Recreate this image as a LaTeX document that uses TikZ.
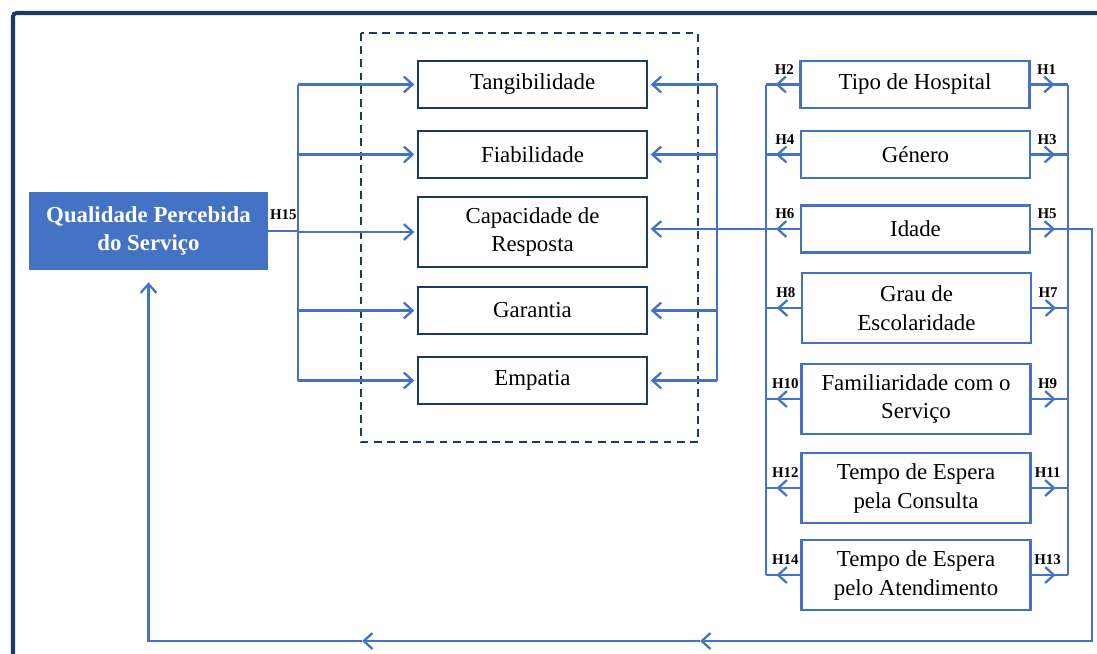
\documentclass[tikz,border=0pt]{standalone}
\usepackage{fontspec}
\setmainfont{Liberation Serif}
\usetikzlibrary{arrows.meta}
\definecolor{navy}{HTML}{1F3864}
\definecolor{ablue}{HTML}{4472C4}

\begin{document}
\begin{tikzpicture}[x={(0.02cm,0)}, y={(0,-0.02cm)},
        dim/.style={draw=navy, line width=1.2pt, minimum width=4.58cm, minimum height=0.94cm, align=center, font=\fontsize{13}{16.5}\selectfont},
        var/.style={draw=ablue, line width=1.3pt, minimum width=4.58cm, minimum height=0.94cm, align=center, font=\fontsize{13}{16.5}\selectfont},
        tall/.style={minimum height=1.4cm},
        qpsbox/.style={fill=ablue, text=white, minimum width=4.78cm, minimum height=1.56cm, align=center, font=\bfseries\fontsize{13}{16}\selectfont},
        link/.style={ablue, line width=1.3pt},
        tip/.style={-{Straight Barb[length=5pt,width=9pt]}},
        hlab/.style={font=\bfseries\fontsize{8.5}{10}\selectfont, inner sep=0pt}]
            \useasboundingbox (0,0) rectangle (1097,653);

            % Frame
            \draw[navy, line width=2.3pt, rounded corners=2pt] (13,660) -- (13,13) -- (1104,13);
            \draw[navy, line width=1.2pt, dash pattern=on 4.5pt off 3pt] (361,33) rectangle (698,442);

            % Main construct
            \node[qpsbox] (qps) at (148.5,231) {Qualidade Percebida\\do Serviço};

            % Dimensions
            \node[dim] (tang) at (532.5,84.5) {Tangibilidade};
            \node[dim] (fiab) at (532.5,154.5) {Fiabilidade};
            \node[dim, tall] (cap) at (532.5,232) {Capacidade de\\Resposta};
            \node[dim] (gar) at (532.5,310.5) {Garantia};
            \node[dim] (emp) at (532.5,380.5) {Empatia};

            % Variables
            \node[var] (hosp) at (915,84.5) {Tipo de Hospital};
            \node[var] (gen) at (915.5,154.5) {Género};
            \node[var] (idade) at (915.5,229) {Idade};
            \node[var, tall] (grau) at (916.5,308) {Grau de\\Escolaridade};
            \node[var, tall] (fam) at (916,399) {Familiaridade com o\\Serviço};
            \node[var, tall] (tce) at (916,488) {Tempo de Espera\\pela Consulta};
            \node[var, tall] (tat) at (916,575) {Tempo de Espera\\pelo Atendimento};

            % Buses
            \coordinate (inbus) at (298,0);
            \coordinate (outbus) at (717,0);
            \coordinate (leftbus) at (766,0);
            \coordinate (rightbus) at (1068,0);
            \coordinate (farright) at (1092,641);
            \coordinate (mida) at (700,641);
            \coordinate (midb) at (362,641);

            % H15 to the dimensions
            \draw[link] (qps.east) -- (qps.east -| inbus);
            \draw[link] (tang.west -| inbus) -- (emp.west -| inbus);
            \foreach \d in {tang,fiab,cap,gar,emp}
                \draw[link, tip, shorten >=1.5pt] (\d.west -| inbus) -- (\d.west);
            \node[hlab] (lab15) at ([shift={(15,-16)}]qps.east) {H15};

            % Variables to the dimensions
            \draw[link] (tang.east -| outbus) -- (emp.east -| outbus);
            \foreach \d in {tang,fiab,gar,emp}
                \draw[link, tip, shorten >=1.5pt] (\d.east -| outbus) -- (\d.east);
            \draw[link, tip, shorten >=1.5pt] (idade.west) -- (idade.west -| cap.east);

            % Variable arrows
            \draw[link] (hosp.west -| leftbus) -- (tat.west -| leftbus);
            \draw[link] (hosp.east -| rightbus) -- (tat.east -| rightbus);
            \foreach \v/\l/\r in {hosp/H2/H1, gen/H4/H3, idade/H6/H5, grau/H8/H7, fam/H10/H9, tce/H12/H11, tat/H14/H13} {
                \draw[link] (\v.west) -- (\v.west -| leftbus);
                \draw[link, tip] (\v.west) -- ++(-24,0);
                \draw[link] (\v.east) -- (\v.east -| rightbus);
                \draw[link, tip] (\v.east) -- ++(24,0);
                \node[hlab] (lab\l) at ([shift={(-15,-15)}]\v.west) {\l};
                \node[hlab] (lab\r) at ([shift={(16,-15)}]\v.east) {\r};
            }

            % Return path to the main construct
            \draw[link, tip] (idade.east) -| (farright) -- (mida);
            \draw[link, tip] (mida) -- (midb);
            \draw[link, tip, shorten >=0.24cm] (midb) -| (qps.south);

        \end{tikzpicture}
\end{document}
